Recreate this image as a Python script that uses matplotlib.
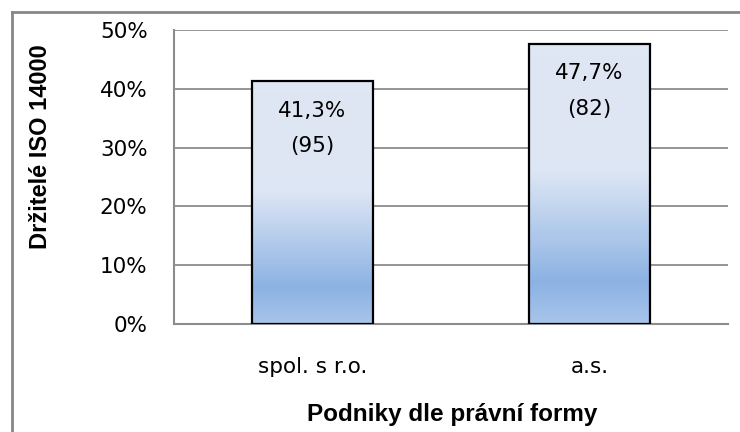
import matplotlib
matplotlib.use("Agg")
import matplotlib.pyplot as plt
import numpy as np
from matplotlib.lines import Line2D
from matplotlib.colors import LinearSegmentedColormap

categories = ["spol. s r.o.", "a.s."]
values = [41.3, 47.7]
counts = [95, 82]
yticks = [0, 10, 20, 30, 40, 50]
ytick_labels = ["0%", "10%", "20%", "30%", "40%", "50%"]
ylabel = "Držitelé ISO 14000"
xlabel = "Podniky dle právní formy"

W, H = 740, 432
fig = plt.figure(figsize=(W / 100, H / 100), dpi=100)
ax = fig.add_axes([174 / W, 1 - 324 / H, (728 - 174) / W, (324 - 30) / H])

x = np.arange(len(categories))
bars = ax.bar(x, values, width=0.44, color="none", edgecolor="black", linewidth=1.6, zorder=3)

# gradient (fraction of bar height from bottom -> colour)
cmap = LinearSegmentedColormap.from_list(
    "grad",
    [(0.0, (0.66, 0.77, 0.92)),
     (0.15, (0.55, 0.70, 0.89)),
     (0.55, (0.87, 0.905, 0.96)),
     (1.0, (0.875, 0.905, 0.96))],
)
grad = np.linspace(0, 1, 256).reshape(-1, 1)
for b in bars:
    x0, y0 = b.get_x(), b.get_y()
    w, h = b.get_width(), b.get_height()
    im = ax.imshow(grad, cmap=cmap, origin="lower", aspect="auto",
                   extent=[x0, x0 + w, y0, y0 + h], zorder=2, interpolation="bilinear")
    im.set_clip_path(b)

ax.set_xlim(-0.5, len(categories) - 0.5)
ax.set_ylim(0, 50)
ax.set_yticks(yticks)
ax.set_yticklabels(ytick_labels)
ax.set_xticks(x)
ax.set_xticklabels(categories)
ax.tick_params(axis="both", length=0, labelsize=15.5, colors="black")
ax.tick_params(axis="y", pad=19)
ax.tick_params(axis="x", pad=24)
ax.yaxis.grid(True, color="#8c8c8c", linewidth=1.3, zorder=1)
ax.set_axisbelow(True)
for s in ["top", "right"]:
    ax.spines[s].set_visible(False)
for s in ["left", "bottom"]:
    ax.spines[s].set_color("#8c8c8c")
    ax.spines[s].set_linewidth(1.5)

for xi, v, c in zip(x, values, counts):
    ax.text(xi, v - 5.0, f"{v:.1f}%".replace(".", ","), ha="center", va="center", fontsize=15.5, zorder=4)
    ax.text(xi, v - 11.1, f"({c})", ha="center", va="center", fontsize=15.5, zorder=4)

fig.text(41 / W, 1 - 147 / H, ylabel, rotation=90, ha="center", va="center",
         fontsize=17, fontweight="bold", family=["Liberation Sans", "DejaVu Sans"])
fig.text(452 / W, 1 - 415 / H, xlabel, ha="center", va="center",
         fontsize=17.5, fontweight="bold", family=["Liberation Sans", "DejaVu Sans"])

# outer chart border (only top and left visible)
fig.add_artist(Line2D([12 / W, 12 / W], [0, 1 - 12 / H], color="#878787", linewidth=2, transform=fig.transFigure))
fig.add_artist(Line2D([12 / W, 1], [1 - 12 / H, 1 - 12 / H], color="#878787", linewidth=2, transform=fig.transFigure))

fig.savefig("out.png", dpi=100)
